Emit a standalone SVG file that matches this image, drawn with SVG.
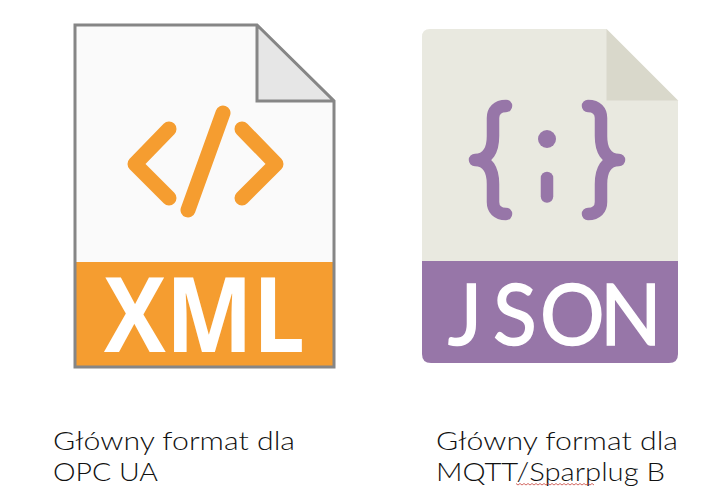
<svg xmlns="http://www.w3.org/2000/svg" width="714" height="492" viewBox="0 0 714 492">
<style>
.lbl{font-family:"Lato","Liberation Sans",sans-serif;font-weight:300;font-size:24.5px;fill:#111}
.xo{fill:none;stroke:#f59d30;stroke-width:15;stroke-linecap:round;stroke-linejoin:round}
.jp{fill:none;stroke:#9776a8;stroke-width:12.500;stroke-linecap:round;stroke-linejoin:round}
.xt{font-family:"Open Sans",sans-serif;font-weight:700;font-size:104px;fill:#fff}
.jt{font-family:"Lato",sans-serif;font-weight:400;font-size:85px;fill:#fff;stroke:#fff;stroke-width:1.500}
</style>
<rect width="714" height="492" fill="#fff"/>
<g id="xml-file">
<path d="M75 25H257L334 101V367H75Z" fill="#fafafa"/>
<rect x="75" y="262" width="259" height="105" fill="#f59d30"/>
<path d="M257 25L334 101H257Z" fill="#e6e6e6"/>
<path d="M75 25H257L334 101V367H75Z M257 25V101H334" fill="none" stroke="#868686" stroke-width="3"/>
<path class="xo" d="M169 129L135 164L169 198M242 129L276 164L242 198M223 113L188 210"/>
<text class="xt" x="104" y="352" textLength="201" lengthAdjust="spacingAndGlyphs">XML</text>
</g>
<g id="json-file">
<path d="M430 29H606.500L678 100.500V262H422V37Q422 29 430 29Z" fill="#e9e9e0"/>
<path d="M606.500 29L678 100.500H606.500Z" fill="#d9d8cb"/>
<path d="M422 261H678V354Q678 363 669 363H431Q422 363 422 354Z" fill="#9776a8"/>
<path class="jp" d="M506 106C497 106 493 111 493 118V136C493 150 488 160 475 160C488 160 493 170 493 184V202C493 209 497 214 506 214"/>
<path class="jp" d="M588 106C597 106 601 111 601 118V136C601 150 606 160 619 160C606 160 601 170 601 184V202C601 209 597 214 588 214"/>
<circle cx="547" cy="139" r="9" fill="#9776a8"/>
<path class="jp" d="M547 178V196.500"/>
<text class="jt" transform="scale(.95 1)" x="471.600 519 568.400 631.600" y="345">JSON</text>
</g>
<g id="label-left">
<text class="lbl" x="53" y="450" textLength="242" lengthAdjust="spacingAndGlyphs">Główny format dla</text>
<text class="lbl" x="53" y="481" textLength="105" lengthAdjust="spacingAndGlyphs">OPC UA</text>
</g>
<g id="label-right">
<text class="lbl" x="436" y="450" textLength="242" lengthAdjust="spacingAndGlyphs">Główny format dla</text>
<text class="lbl" x="436" y="481" textLength="229" lengthAdjust="spacingAndGlyphs">MQTT/Sparplug B</text>
<path d="M516 483.500l2 1.500l2-1.500l2 1.500l2-1.500l2 1.500l2-1.500l2 1.500l2-1.500l2 1.500l2-1.500l2 1.500l2-1.500l2 1.500l2-1.500l2 1.500l2-1.500l2 1.500l2-1.500l2 1.500l2-1.500l2 1.500l2-1.500l2 1.500l2-1.500l2 1.500l2-1.500l2 1.500l2-1.500l2 1.500l2-1.500l2 1.500l2-1.500l2 1.500l2-1.500l2 1.500l2-1.500l2 1.500l2-1.500l2 1.500" fill="none" stroke="#c8443c" stroke-width="0.800"/>
</g>
</svg>
